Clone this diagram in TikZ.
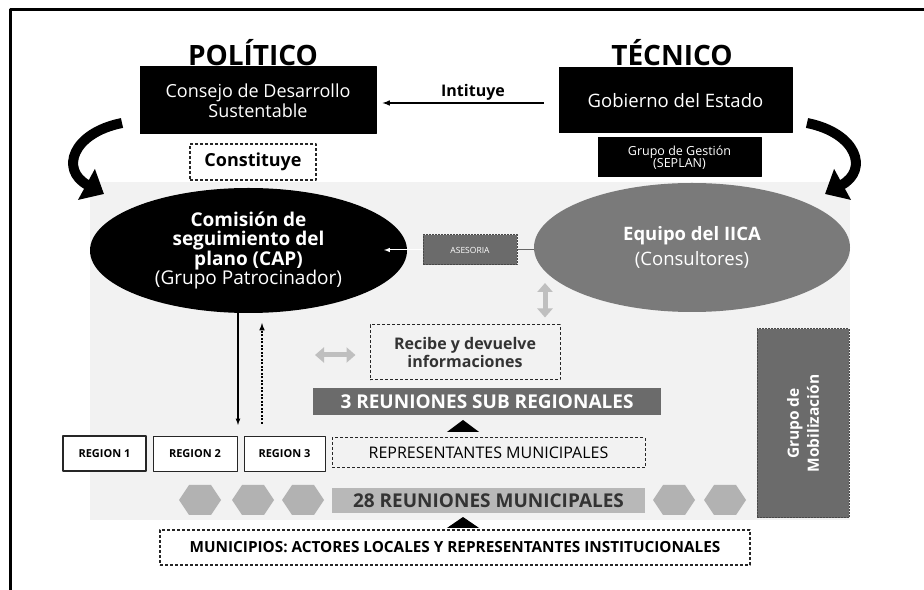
\documentclass[tikz,border=0pt]{standalone}
\usepackage{fontspec}
\setmainfont{Open Sans}
\usetikzlibrary{shapes.geometric,arrows.meta}

\begin{document}
\begin{tikzpicture}[>=latex,line join=bevel,
  blackbox/.style={draw=black,fill=black,text=white,inner sep=0pt,align=center},
  dashbox/.style={draw=black!85,dash pattern=on 3bp off 2bp,line width=1.2bp,inner sep=0pt,align=center},
  graybox/.style={fill=black!58,draw=black!72,dash pattern=on 2bp off 1bp,text=white,inner sep=0pt,align=center},
  regionbox/.style={draw=black!85,line width=1bp,fill=white,inner sep=0pt,minimum height=35bp,font=\bfseries\fontsize{11bp}{13bp}\selectfont},
  title/.style={inner sep=0pt,font=\bfseries\fontsize{28bp}{30bp}\selectfont},
  bigarrow/.style={line width=10bp,-{Triangle[length=20bp,width=34bp]}},
  softarrow/.style={black!25,line width=5bp,{Triangle[length=9bp,width=15bp]}-{Triangle[length=9bp,width=15bp]}}]
  \pgfsetlinewidth{1bp}
  \useasboundingbox (0bp,0bp) rectangle (924bp,590bp);
  \fill[white] (0bp,0bp) rectangle (924bp,590bp);
  \draw[line width=3bp] (10bp,0bp) -- (10bp,580bp) -- (924bp,580bp);
  \fill[black!5] (90bp,70bp) rectangle (850bp,408bp);
%%
  % Node: POLITICO
  \node[title] (politico) at (253bp,537bp) {POLÍTICO};
  % Node: TECNICO
  \node[title] (tecnico) at (672bp,537bp) {TÉCNICO};
  % Node: Consejo de Desarrollo Sustentable
\begin{scope}
  \node[blackbox,minimum width=236bp,minimum height=67bp,font=\fontsize{18bp}{20bp}\selectfont] (consejo) at (258bp,489.5bp) {Consejo de Desarrollo\\Sustentable};
\end{scope}
  % Node: Gobierno del Estado
\begin{scope}
  \node[blackbox,minimum width=233bp,minimum height=65bp,font=\fontsize{18.5bp}{21bp}\selectfont] (gobierno) at (675.5bp,489.5bp) {Gobierno del Estado};
\end{scope}
  % Node: Constituye
  \node[dashbox,line width=2bp,minimum width=126bp,minimum height=36bp,font=\bfseries\fontsize{18bp}{20bp}\selectfont] (constituye) at (253bp,428bp) {Constituye};
  % Node: Grupo de Gestion
  \node[blackbox,minimum width=163bp,minimum height=39bp,font=\fontsize{12.5bp}{12.5bp}\selectfont] (gestion) at (679.5bp,432.5bp) {Grupo de Gestión\\(SEPLAN)};
  % Node: Comision de seguimiento
\begin{scope}
  \node[ellipse,fill=black,text=white,inner sep=0pt,minimum width=317bp,minimum height=125bp,align=center,font=\fontsize{19bp}{19.5bp}\selectfont] (cap) at (248.5bp,339.5bp)
    {\textbf{Comisión de}\\\textbf{seguimiento del}\\\textbf{plano (CAP)}\\(Grupo Patrocinador)};
\end{scope}
  % Node: Equipo del IICA
\begin{scope}
  \node[ellipse,fill=black!52,text=white,inner sep=0pt,minimum width=316bp,minimum height=129bp,align=center,font=\fontsize{18.5bp}{25bp}\selectfont] (iica) at (692bp,342.5bp)
    {\textbf{Equipo del IICA}\\(Consultores)};
\end{scope}
  % Node: ASESORIA
  \node[graybox,minimum width=94bp,minimum height=30bp,font=\fontsize{8.5bp}{10bp}\selectfont] (asesoria) at (470bp,340bp) {ASESORIA};
  % Node: Recibe y devuelve informaciones
  \node[dashbox,line width=1bp,minimum width=190bp,minimum height=55bp,text=black!80,font=\bfseries\fontsize{16bp}{18.5bp}\selectfont] (recibe) at (465bp,237.5bp) {Recibe y devuelve\\informaciones};
  % Node: 3 REUNIONES SUB REGIONALES
  \node[fill=black!58,text=white,inner sep=0pt,minimum width=348bp,minimum height=27bp,font=\bfseries\fontsize{19bp}{20bp}\selectfont] (sub) at (487bp,188.5bp) {3 REUNIONES SUB REGIONALES};
  % Node: REPRESENTANTES MUNICIPALES
  \node[dashbox,line width=1bp,minimum width=313bp,minimum height=30bp,text=black,font=\fontsize{16bp}{18bp}\selectfont] (repr) at (488.5bp,137bp) {REPRESENTANTES MUNICIPALES};
  % Node: REGION 1, REGION 2, REGION 3
  \node[regionbox,line width=2bp,minimum width=83bp] (region1) at (104.5bp,136bp) {REGION 1};
  \node[regionbox,minimum width=84bp] (region2) at (195bp,136bp) {REGION 2};
  \node[regionbox,minimum width=81bp] (region3) at (284.5bp,136bp) {REGION 3};
  % Node: 28 REUNIONES MUNICIPALES
  \node[fill=black!28,text=black!80,inner sep=0pt,minimum width=313bp,minimum height=25bp,font=\bfseries\fontsize{19bp}{20bp}\selectfont] (munic) at (488.5bp,89.5bp) {28 REUNIONES MUNICIPALES};
  % Node: hexagons
  \fill[black!30] (179bp,90bp) -- (189bp,105bp) -- (211bp,105bp) -- (221bp,90bp) -- (211bp,75bp) -- (189bp,75bp) -- cycle;
  \fill[black!30] (232bp,90bp) -- (242bp,105bp) -- (264bp,105bp) -- (274bp,90bp) -- (264bp,75bp) -- (242bp,75bp) -- cycle;
  \fill[black!30] (282bp,90bp) -- (292bp,105bp) -- (314bp,105bp) -- (324bp,90bp) -- (314bp,75bp) -- (292bp,75bp) -- cycle;
  \fill[black!30] (653bp,90bp) -- (663bp,105bp) -- (685bp,105bp) -- (695bp,90bp) -- (685bp,75bp) -- (663bp,75bp) -- cycle;
  \fill[black!30] (704bp,90bp) -- (714bp,105bp) -- (736bp,105bp) -- (746bp,90bp) -- (736bp,75bp) -- (714bp,75bp) -- cycle;
  % Node: Grupo de Mobilizacion
  \node[graybox,rotate=90,minimum width=189bp,minimum height=92bp,font=\bfseries\fontsize{15.5bp}{20bp}\selectfont] (mobil) at (803bp,166.5bp) {Grupo de\\Mobilización};
  % Node: MUNICIPIOS
  \node[dashbox,line width=1.5bp,minimum width=590bp,minimum height=35bp,font=\bfseries\fontsize{15.3bp}{17bp}\selectfont] (municipios) at (455bp,42.5bp) {MUNICIPIOS: ACTORES LOCALES Y REPRESENTANTES INSTITUCIONALES};
%%
  \coordinate (lstart) at (122bp,467bp);
  \coordinate (lend) at (104bp,396bp);
  \coordinate (rstart) at (807bp,467bp);
  \coordinate (rend) at (825bp,396bp);
  \coordinate (downtip) at (238bp,165bp);
  \coordinate (uptip) at (262bp,267bp);
  \coordinate (va) at (545bp,307bp);
  \coordinate (ha) at (315bp,235bp);
  \coordinate (t1) at (463bp,170bp);
  \coordinate (t2) at (463bp,73bp);
  % Edge: Gobierno del Estado -> Consejo de Desarrollo Sustentable
  \draw [->,line width=1.5bp,shorten <=15bp,shorten >=6bp] ([yshift=-2.5bp]gobierno.west) -- ([yshift=-2.5bp]consejo.east);
  \node[inner sep=0pt,font=\bfseries\fontsize{16bp}{18bp}\selectfont] (intituye) at (473bp,498bp) {Intituye};
  % Edge: Consejo -> Comision
  \draw [bigarrow] (lstart) .. controls (72bp,457bp) and (60bp,420bp) .. (lend);
  % Edge: Gobierno -> Equipo del IICA
  \draw [bigarrow] (rstart) .. controls (857bp,457bp) and (869bp,420bp) .. (rend);
  % Edge: ASESORIA -> Comision
  \draw [->,white,line width=1bp] (asesoria.west) -- (384bp,340bp);
  % Edge: Equipo del IICA -- ASESORIA
  \draw [black!60,line width=1bp] (asesoria.east) -- (asesoria.east -| iica.west);
  % Edge: Equipo del IICA <-> Recibe
  \draw [softarrow,shorten >=7bp] (va) -- (va |- recibe.north);
  \draw [softarrow,shorten >=14bp] (ha) -- (ha -| recibe.west);
  % Edge: Comision -> REGION
  \draw [->,line width=1.2bp] (cap.south -| downtip) -- (downtip);
  % Edge: REGION -> Comision
  \draw [->,line width=1.5bp,dash pattern=on 2bp off 1.5bp,shorten <=12bp] (uptip |- region3.north) -- (uptip);
  % Edge: REPRESENTANTES -> 3 REUNIONES
  \draw [-{Triangle[length=12bp,width=32bp]},shorten <=6bp] (repr.north -| t1) -- (t1);
  % Edge: MUNICIPIOS -> 28 REUNIONES
  \draw [-{Triangle[length=11bp,width=32bp]},shorten <=2bp] (municipios.north -| t2) -- (t2);
%
\end{tikzpicture}
\end{document}
